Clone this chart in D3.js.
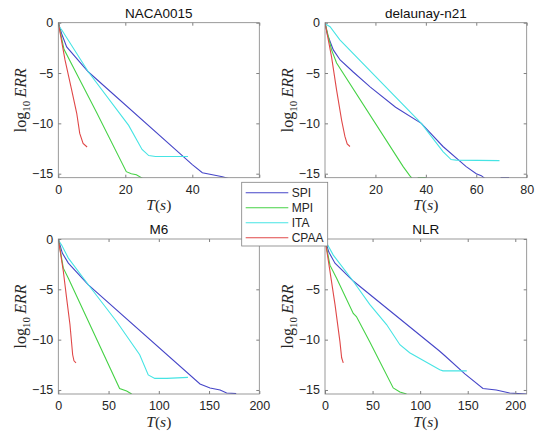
<!DOCTYPE html>
<html><head><meta charset="utf-8">
<script src="https://cdn.jsdelivr.net/npm/d3@7"></script>
<style>
body{margin:0;background:#fff;}
svg{display:block;}
</style></head>
<body>
<svg id="c" width="539" height="433"></svg>
<script>
const titles = ["NACA0015", "delaunay-n21", "M6", "NLR"];
const seriesNames = ["SPI", "MPI", "ITA", "CPAA"];
const seriesColors = ["#4646c8", "#46d246", "#46e4e4", "#e04848"];
const xMaxes = [60, 80, 200, 212];
const xTicks = [[0,20,40,60],[0,20,40,60,80],[0,50,100,150,200],[0,50,100,150,200]];
const yTicks = [-15,-10,-5,0];
const yRange = [-15.4, 0];
// tick labels hidden behind the legend in the reference
const hiddenX = [[60],[0],[],[]];
const hiddenY = [[],[],[],[0]];

// NACA0015
const nacaSPI = [[0,0],[1,-1.1],[2.5,-2.4],[9,-4.9],[37,-13.2],[40,-14.1],[43,-14.9],[46,-15.1],[49,-15.3],[51,-15.5]];
const nacaMPI = [[0,0],[1.7,-2.65],[11.4,-8.9],[20.3,-14.8],[21.8,-15.0],[23.3,-15.1],[25.3,-15.5]];
const nacaITA = [[0,-0.3],[1,-0.7],[9,-4.9],[21,-10.2],[25,-12.6],[27,-13.2],[29,-13.3],[38.7,-13.3]];
const nacaCPAA = [[0,0],[2,-3.7],[4,-6.7],[5.5,-9.0],[6.4,-11.0],[7.4,-12.0],[8.6,-12.35]];
// delaunay-n21
const delSPI = [[0,0],[1,-1.2],[3.3,-2.7],[6,-3.7],[11.2,-4.9],[18,-6.4],[28,-8.4],[38.2,-10],[46.8,-12.3],[56,-14.3],[60,-15],[62,-15.2],[64,-15.6],[69,-15.6],[70,-15.38],[73,-15.38]];
const delMPI = [[0,0],[2.6,-2.7],[4.6,-4.0],[31,-14.3],[33.6,-15.2],[35,-15.6],[36.5,-15.6],[37,-15.38],[40,-15.38]];
const delITA = [[0,-0.1],[2,-0.4],[5.9,-1.7],[38.2,-10],[46.8,-12.8],[50,-13.6],[52,-13.65],[69.2,-13.7]];
const delCPAA = [[0,0],[2.6,-3.4],[4.6,-6.7],[6.6,-9.7],[7.9,-11.3],[8.8,-12.05],[9.9,-12.3]];
// M6
const m6SPI = [[0,0],[4,-1.4],[10,-2.4],[29.9,-4.55],[141,-14.4],[151,-14.8],[161,-15.0],[167.5,-15.3],[177,-15.35]];
const m6MPI = [[0,0],[5,-2.9],[10,-3.9],[61,-14.85],[68,-15.1],[73,-15.4]];
const m6ITA = [[0,-0.1],[3.3,-0.6],[10,-1.9],[29.9,-4.55],[58,-8.2],[81,-11.5],[89.5,-13.5],[96,-13.85],[108,-13.85],[129,-13.75]];
const m6CPAA = [[0,0],[5,-3.2],[8.3,-5.9],[11.6,-8.5],[14.3,-11.5],[15.6,-12.1],[17.6,-12.3]];
// NLR
const nlrSPI = [[0,0],[4,-1.3],[10.5,-2.4],[30,-4.2],[120,-11.1],[126,-11.6],[147,-13.4],[166,-14.85],[180,-15.0],[194,-15.3],[212,-15.4]];
const nlrMPI = [[0,0],[5.2,-2.6],[12.2,-3.9],[29.7,-7.4],[33,-7.7],[47,-10.2],[71.7,-14.8],[78.7,-15.2],[85.7,-15.4]];
const nlrITA = [[0,-0.1],[1.7,-0.4],[8.7,-1.6],[29.7,-4.2],[47,-6.5],[64.7,-8.5],[78.7,-10.5],[89,-11.3],[120.6,-13.0],[124,-13.1],[149,-13.1]];
const nlrCPAA = [[0,0],[5.2,-3.2],[10.5,-6.5],[15.7,-10.2],[17.5,-11.8],[19.2,-12.3]];

const panelData = [
  [nacaSPI, nacaMPI, nacaITA, nacaCPAA],
  [delSPI, delMPI, delITA, delCPAA],
  [m6SPI, m6MPI, m6ITA, m6CPAA],
  [nlrSPI, nlrMPI, nlrITA, nlrCPAA]
];

const boxes = [
  {l:58.3, r:259.3, t:22.7, b:177.7},
  {l:325,  r:526.7, t:22.7, b:177.7},
  {l:58.3, r:259.3, t:239,  b:394},
  {l:325,  r:526.7, t:239,  b:394}
];

const svg = d3.select("#c");
const tickFont = "'Liberation Sans', Arial, sans-serif";
const serifFont = "'Liberation Serif', 'Times New Roman', serif";
const axisGray = "#808080";
const textCol = "#262626";

boxes.forEach((bx, i) => {
  const x = d3.scaleLinear().domain([0, xMaxes[i]]).range([bx.l, bx.r]);
  const y = d3.scaleLinear().domain(yRange).range([bx.b, bx.t]);
  const g = svg.append("g");
  const cid = "clip" + i;
  g.append("clipPath").attr("id", cid).append("rect")
    .attr("x", bx.l).attr("y", bx.t).attr("width", bx.r - bx.l).attr("height", bx.b - bx.t);

  // lines
  const line = d3.line().x(d => x(d[0])).y(d => y(d[1]));
  panelData[i].forEach((ser, k) => {
    g.append("path").datum(ser).attr("d", line)
      .attr("fill", "none").attr("stroke", seriesColors[k])
      .attr("stroke-width", 1.1).attr("clip-path", `url(#${cid})`);
  });

  // axes
  const styleAxis = (sel, labels, hidden) => {
    sel.select(".domain").remove();
    sel.selectAll(".tick line").attr("stroke", axisGray);
    sel.selectAll(".tick text").attr("fill", textCol)
      .style("font-family", tickFont).style("font-size", "12.5px");
    if (!labels) sel.selectAll(".tick text").remove();
    else sel.selectAll(".tick").filter(d => hidden.includes(d)).select("text").remove();
  };
  g.append("g").attr("transform", `translate(0,${bx.b})`)
    .call(d3.axisBottom(x).tickValues(xTicks[i]).tickSize(-3).tickPadding(7).tickFormat(d3.format("d")))
    .call(s => styleAxis(s, true, hiddenX[i]));
  g.append("g").attr("transform", `translate(0,${bx.t})`)
    .call(d3.axisTop(x).tickValues(xTicks[i]).tickSize(-3))
    .call(s => styleAxis(s, false, []));
  g.append("g").attr("transform", `translate(${bx.l},0)`)
    .call(d3.axisLeft(y).tickValues(yTicks).tickSize(-3).tickPadding(5).tickFormat(d3.format("d")))
    .call(s => styleAxis(s, true, hiddenY[i]));
  g.append("g").attr("transform", `translate(${bx.r},0)`)
    .call(d3.axisRight(y).tickValues(yTicks).tickSize(-3))
    .call(s => styleAxis(s, false, []));

  g.append("rect").attr("x", bx.l).attr("y", bx.t)
    .attr("width", bx.r - bx.l).attr("height", bx.b - bx.t)
    .attr("fill", "none").attr("stroke", axisGray).attr("stroke-width", 0.8);

  // title
  g.append("text").attr("x", (bx.l + bx.r) / 2).attr("y", bx.t - 5)
    .attr("text-anchor", "middle").attr("fill", "#111")
    .style("font-family", tickFont).style("font-size", "13.5px")
    .text(titles[i]);

  // x label
  const xl = g.append("text").attr("x", (bx.l + bx.r) / 2).attr("y", bx.b + 32.5)
    .attr("text-anchor", "middle").attr("fill", textCol)
    .style("font-family", serifFont).style("font-size", "15.5px");
  xl.append("tspan").style("font-style", "italic").text("T");
  xl.append("tspan").text("(");
  xl.append("tspan").style("font-style", "italic").text("s");
  xl.append("tspan").text(")");

  // y label
  const cy = (bx.t + bx.b) / 2;
  const yl = g.append("text").attr("transform", `translate(${bx.l - 32},${cy}) rotate(-90)`)
    .attr("text-anchor", "middle").attr("fill", textCol)
    .style("font-family", serifFont).style("font-size", "16px");
  yl.append("tspan").text("log");
  yl.append("tspan").attr("dy", 4).style("font-size", "11px").text("10");
  yl.append("tspan").attr("dy", -4).style("font-style", "italic").text("\u2009ERR");
});

// legend
const lg = svg.append("g");
const lx = 241.7, ly = 182.3, lw = 86, lh = 63.7;
lg.append("rect").attr("x", lx).attr("y", ly).attr("width", lw).attr("height", lh)
  .attr("fill", "#fff").attr("stroke", axisGray).attr("stroke-width", 0.8);
seriesNames.forEach((n, k) => {
  const yy = ly + 10.5 + k * 15;
  lg.append("line").attr("x1", lx + 4).attr("x2", lx + 46.6).attr("y1", yy).attr("y2", yy)
    .attr("stroke", seriesColors[k]).attr("stroke-width", 1.1);
  lg.append("text").attr("x", lx + 50).attr("y", yy).attr("dy", "0.35em")
    .attr("fill", textCol).style("font-family", tickFont).style("font-size", "12px").text(n);
});
</script>
</body></html>
